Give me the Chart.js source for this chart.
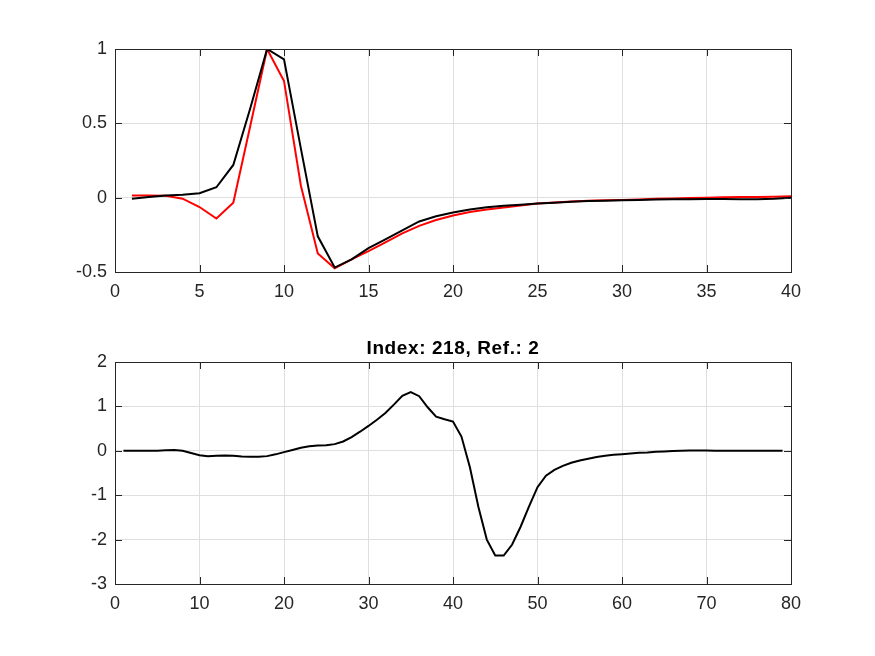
<!DOCTYPE html>
<html>
<head>
<meta charset="utf-8">
<script src="https://cdn.jsdelivr.net/npm/chart.js@4"></script>
<style>
html,body{margin:0;padding:0;background:#fff;}
#wrap{position:relative;width:875px;height:656px;overflow:hidden;}
canvas{position:absolute;left:0;}
</style>
</head>
<body>
<div id="wrap">
<canvas id="c1" style="top:0px"></canvas>
<canvas id="c2" style="top:320px"></canvas>
</div>
<script>
// ---- data ----
const topX = [1,2,3,4,5,6,7,8,9,10,11,12,13,14,15,16,17,18,19,20,21,22,23,24,25,26,27,28,29,30,31,32,33,34,35,36,37,38,39,40];
const topBlack = [-0.007,0.005,0.015,0.02,0.03,0.07,0.22,0.6,1.0,0.93,0.33,-0.26,-0.47,-0.415,-0.34,-0.28,-0.22,-0.16,-0.125,-0.1,
  -0.08,-0.065,-0.055,-0.047,-0.04,-0.034,-0.027,-0.022,-0.02,-0.018,-0.015,-0.012,-0.01,-0.01,-0.009,-0.009,-0.011,-0.011,-0.007,0];
const topRed = [0.015,0.015,0.013,-0.007,-0.063,-0.14,-0.034,0.48,1.0,0.785,0.08,-0.375,-0.475,-0.415,-0.36,-0.3,-0.24,-0.19,-0.15,-0.12,
  -0.097,-0.08,-0.066,-0.052,-0.04,-0.032,-0.025,-0.02,-0.018,-0.016,-0.012,-0.007,-0.005,-0.002,0,0.002,0.004,0.004,0.006,0.009];
const botX = [1,2,3,4,5,6,7,8,9,10,11,12,13,14,15,16,17,18,19,20,21,22,23,24,25,26,27,28,29,30,31,32,33,34,35,36,37,38,39,40,
  41,42,43,44,45,46,47,48,49,50,51,52,53,54,55,56,57,58,59,60,61,62,63,64,65,66,67,68,69,70,71,72,73,74,75,76,77,78,79];
const botY = [0,0,0,0,0.003,0.01,0.02,0,-0.05,-0.1,-0.12,-0.11,-0.105,-0.11,-0.127,-0.135,-0.135,-0.12,-0.08,-0.03,
  0.02,0.07,0.1,0.12,0.127,0.15,0.21,0.31,0.43,0.56,0.7,0.85,1.04,1.24,1.32,1.23,0.98,0.77,0.71,0.66,
  0.32,-0.37,-1.26,-2.0,-2.36,-2.36,-2.11,-1.71,-1.25,-0.82,-0.56,-0.43,-0.34,-0.27,-0.22,-0.18,-0.14,-0.11,-0.09,-0.075,
  -0.06,-0.045,-0.037,-0.022,-0.015,-0.007,0,0.005,0.005,0.005,0,0,0,0,0,0,0,0,0];
const titleText = 'Index: 218, Ref.: 2';

// ---- helpers ----
const AX = '#262626';
const FONT = "'Liberation Sans', Arial, sans-serif";
function pts(xs, ys){ return xs.map((x,i)=>({x:x,y:ys[i]})); }
function fmt(v){ return String(Math.round(v*1000)/1000); }

const boxPlugin = {
  id:'box',
  afterDraw(chart){
    const ctx = chart.ctx, a = chart.chartArea;
    const xs = chart.scales.x, ys = chart.scales.y;
    const L = 7;
    ctx.save();
    ctx.strokeStyle = AX; ctx.lineWidth = 1;
    ctx.beginPath();
    xs.ticks.forEach(t=>{
      const px = Math.round(xs.getPixelForValue(t.value))+0.5;
      ctx.moveTo(px,a.bottom); ctx.lineTo(px,a.bottom-L);
      ctx.moveTo(px,a.top); ctx.lineTo(px,a.top+L);
    });
    ys.ticks.forEach(t=>{
      const py = Math.round(ys.getPixelForValue(t.value))+0.5;
      ctx.moveTo(a.left,py); ctx.lineTo(a.left+L,py);
      ctx.moveTo(a.right,py); ctx.lineTo(a.right-L,py);
    });
    ctx.stroke();
    ctx.strokeRect(Math.round(a.left)+0.5, Math.round(a.top)+0.5, Math.round(a.right-a.left), Math.round(a.bottom-a.top));
    const t = chart.options.plugins.axTitle;
    if (t && t.text) {
      ctx.fillStyle = '#000';
      ctx.font = 'bold 19px ' + FONT;
      if ('letterSpacing' in ctx) ctx.letterSpacing = '0.6px';
      ctx.textAlign = 'center';
      ctx.textBaseline = 'alphabetic';
      ctx.fillText(t.text, (a.left + a.right)/2, a.top - 8.5);
    }
    ctx.restore();
  }
};

function makeChart(id, h, datasets, xr, yr, pad, title){
  const cv = document.getElementById(id);
  cv.width = 875; cv.height = h;
  cv.style.width='875px'; cv.style.height=h+'px';
  return new Chart(cv, {
    type:'line',
    data:{datasets:datasets},
    options:{
      responsive:false, animation:false, devicePixelRatio:1,
      layout:{padding:pad},
      plugins:{legend:{display:false}, tooltip:{enabled:false}, title:{display:false}, axTitle:{text:title}},
      elements:{point:{radius:0}, line:{tension:0, borderWidth:2}},
      scales:{
        x:{type:'linear', min:xr[0], max:xr[1],
           ticks:{stepSize:xr[2], color:AX, font:{family:FONT,size:18}, padding:9, maxRotation:0, autoSkip:false, callback:fmt},
           grid:{color:'#dfdfdf', drawTicks:false}, border:{display:false},
           afterFit(s){ s.height = 32; }},
        y:{type:'linear', min:yr[0], max:yr[1],
           ticks:{stepSize:yr[2], color:AX, font:{family:FONT,size:18}, padding:8, autoSkip:false, callback:fmt},
           grid:{color:'#dfdfdf', drawTicks:false}, border:{display:false},
           afterFit(s){ s.width = 115; }}
      }
    },
    plugins:[boxPlugin]
  });
}

makeChart('c1', 320, [
  {data:pts(topX, topBlack), borderColor:'#000000'},
  {data:pts(topX, topRed), borderColor:'#ff0000'}
], [0,40,5], [-0.5,1,0.5], {top:49, right:84, left:0, bottom:16}, '');

makeChart('c2', 336, [
  {data:pts(botX, botY), borderColor:'#000000'}
], [0,80,10], [-3,2,1], {top:42, right:84, left:0, bottom:40}, titleText);
</script>
</body>
</html>
